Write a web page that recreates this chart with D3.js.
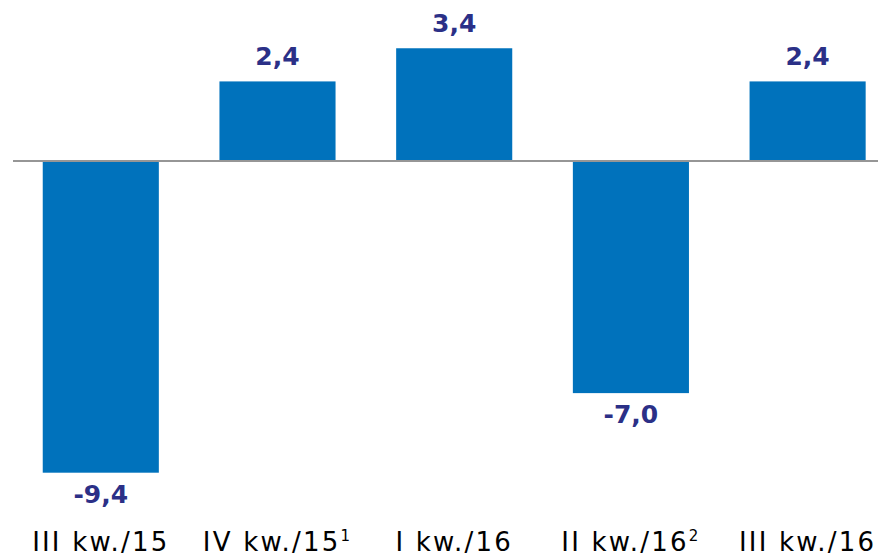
<!DOCTYPE html>
<html><head><meta charset="utf-8">
<script src="https://cdn.jsdelivr.net/npm/d3@7"></script>
<style>body{margin:0;background:#fff}svg{display:block}</style>
</head><body>
<svg id="c" width="878" height="557"></svg>
<script>
const categories = ["III kw./15", "IV kw./15", "I kw./16", "II kw./16", "III kw./16"];
const superscripts = ["", "1", "", "2", ""];
const values = [-9.4, 2.4, 3.4, -7.0, 2.4];
const valueLabels = ["-9,4", "2,4", "3,4", "-7,0", "2,4"];

const svg = d3.select("#c");
const x = d3.scaleBand().domain(categories).range([12.7, 895.7]).paddingInner(0.343).paddingOuter(0.17);
const y = d3.scaleLinear().domain([0, -9.4]).range([161, 472.7]);

svg.selectAll("rect.bar").data(values).join("rect")
  .attr("class","bar")
  .attr("x",(d,i)=>x(categories[i]))
  .attr("width",x.bandwidth())
  .attr("y",d=>Math.min(y(d),y(0)))
  .attr("height",d=>Math.abs(y(d)-y(0)))
  .attr("fill","#0072bc");

svg.append("line").attr("x1",13).attr("x2",878).attr("y1",y(0)).attr("y2",y(0))
  .attr("stroke","#969696").attr("stroke-width",2);

svg.selectAll("text.val").data(values).join("text")
  .attr("class","val")
  .attr("x",(d,i)=>x(categories[i])+x.bandwidth()/2)
  .attr("y",d=>d>=0? y(d)-16 : y(d)+30)
  .attr("text-anchor","middle")
  .attr("font-family","DejaVu Sans, Verdana, sans-serif")
  .attr("font-weight","bold").attr("font-size",25)
  .attr("fill","#2b3087")
  .text((d,i)=>valueLabels[i]);

const lab = svg.selectAll("text.cat").data(categories).join("text")
  .attr("class","cat")
  .attr("x",d=>x(d)+x.bandwidth()/2)
  .attr("y",551)
  .attr("text-anchor","middle")
  .attr("font-family","DejaVu Sans, Verdana, sans-serif")
  .attr("font-size",26)
  .attr("letter-spacing",2.2)
  .attr("fill","#000");
lab.append("tspan").text(d=>d);
lab.filter((d,i)=>superscripts[i]).append("tspan")
  .attr("font-size",15).attr("dy",-10).attr("dx",0)
  .text(d=>superscripts[categories.indexOf(d)]);
</script>
</body></html>
